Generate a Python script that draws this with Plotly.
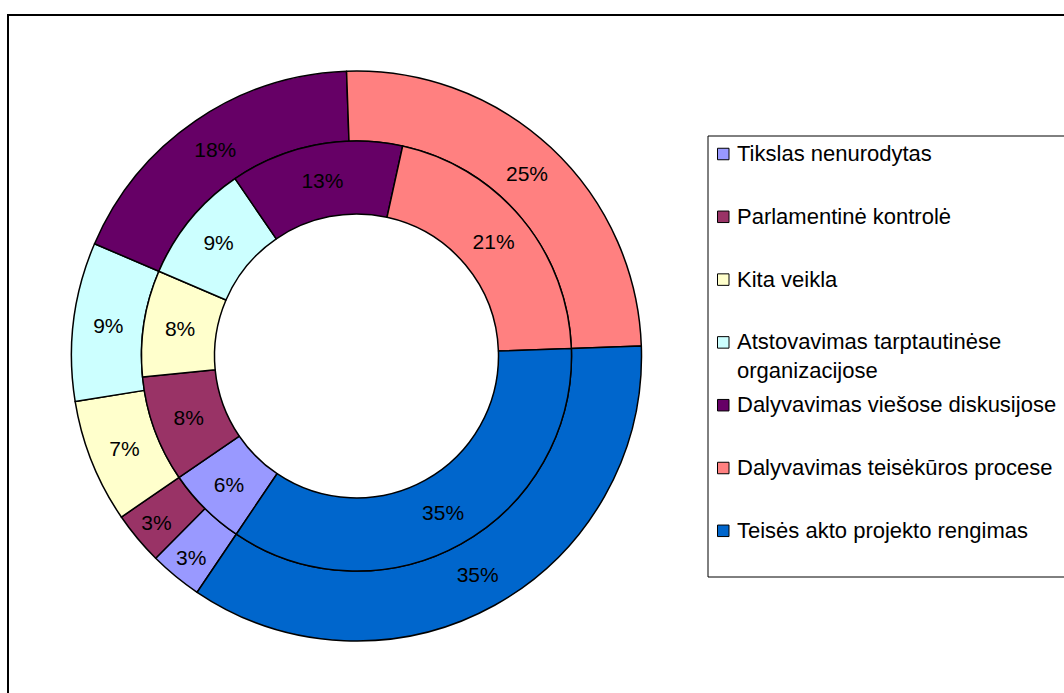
import plotly.graph_objects as go

categories = [
    "Tikslas nenurodytas",
    "Parlamentinė kontrolė",
    "Kita veikla",
    "Atstovavimas tarptautinėse organizacijose",
    "Dalyvavimas viešose diskusijose",
    "Dalyvavimas teisėkūros procese",
    "Teisės akto projekto rengimas",
]
outer_values = [3, 3, 7, 9, 18, 25, 35]
inner_values = [6, 8, 8, 9, 13, 21, 35]
colors = ["#9999FF", "#993366", "#FFFFCC", "#CCFFFF", "#660066", "#FF8080", "#0066CC"]
legend_labels = [
    "Tikslas nenurodytas",
    "Parlamentinė kontrolė",
    "Kita veikla",
    "Atstovavimas tarptautinėse<br>organizacijose",
    "Dalyvavimas viešose diskusijose",
    "Dalyvavimas teisėkūros procese",
    "Teisės akto projekto rengimas",
]

W, H = 1064, 693
FONT = "Arial, Liberation Sans, sans-serif"


def X(px):
    return px / W


def Y(py):
    return 1 - py / H


cx, cy = 356.5, 356.0
r_out, r_mid, r_hole = 285.0, 215.0, 142.0


def dom(r):
    return dict(x=[X(cx - r), X(cx + r)], y=[Y(cy + r), Y(cy - r)])


fig = go.Figure()
common = dict(
    labels=categories,
    sort=False,
    direction="clockwise",
    rotation=214,
    marker=dict(colors=colors, line=dict(color="black", width=1.5)),
    texttemplate="%{value}%",
    textposition="inside",
    insidetextorientation="horizontal",
    insidetextfont=dict(family=FONT, size=21, color="black"),
    showlegend=False,
)
fig.add_trace(go.Pie(values=outer_values, hole=r_mid / r_out, domain=dom(r_out), **common))
fig.add_trace(go.Pie(values=inner_values, hole=r_hole / r_mid, domain=dom(r_mid), **common))

shapes = [
    dict(type="rect", xref="paper", yref="paper",
         x0=X(8), x1=X(1100), y0=Y(730), y1=Y(15),
         line=dict(color="black", width=2), fillcolor="rgba(0,0,0,0)", layer="above"),
    dict(type="rect", xref="paper", yref="paper",
         x0=X(708), x1=X(1100), y0=Y(577), y1=Y(136),
         line=dict(color="black", width=1), fillcolor="rgba(0,0,0,0)"),
]
annotations = []
y0_leg, step = 154.0, 62.8
for i, (lab, col) in enumerate(zip(legend_labels, colors)):
    yc = y0_leg + step * i
    shapes.append(dict(type="rect", xref="paper", yref="paper",
                       x0=X(717.5), x1=X(729), y0=Y(yc + 5.75), y1=Y(yc - 5.75),
                       line=dict(color="black", width=1), fillcolor=col))
    annotations.append(dict(xref="paper", yref="paper", x=X(735), y=Y(yc - 15),
                            xanchor="left", yanchor="top", align="left", showarrow=False,
                            text=lab, font=dict(family=FONT, size=22, color="black")))

fig.update_layout(
    width=W, height=H,
    margin=dict(l=0, r=0, t=0, b=0),
    paper_bgcolor="white", plot_bgcolor="white",
    shapes=shapes, annotations=annotations,
)
fig.write_html(
    "out.html",
    config={"displayModeBar": False},
    post_script="document.body.style.margin='0';document.body.style.overflow='hidden';",
)
